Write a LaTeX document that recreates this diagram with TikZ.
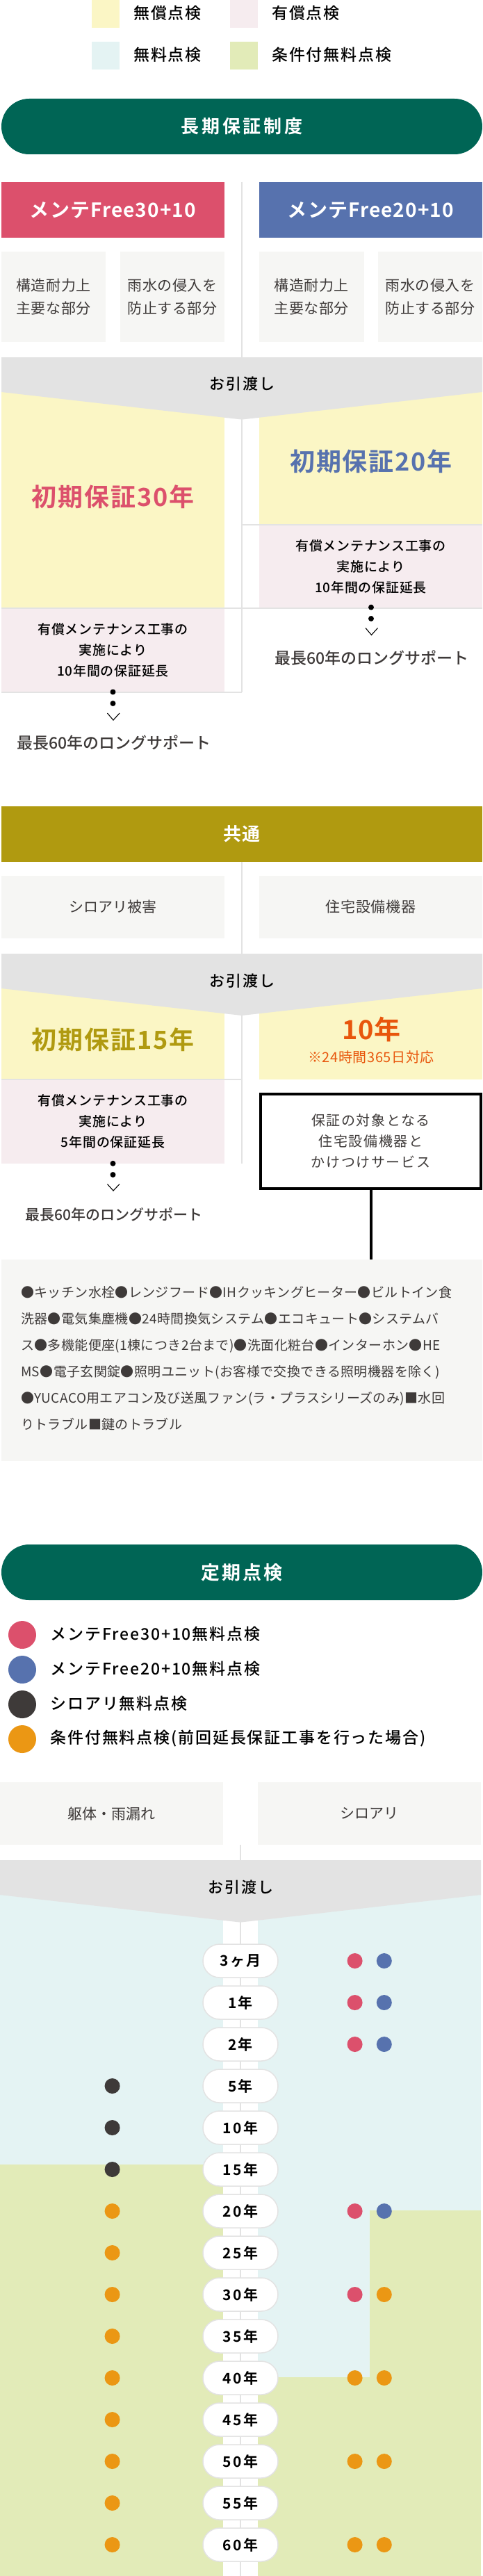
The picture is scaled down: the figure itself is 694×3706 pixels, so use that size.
\documentclass[tikz,border=0pt]{standalone}
\usepackage{fontspec}
\setmainfont[UprightFont=* Medium,BoldFont=* Bold]{Noto Sans CJK JP}
\newfontfamily\jpreg{Noto Sans CJK JP}
\definecolor{cteal}{HTML}{006555}
\definecolor{cred}{HTML}{DC506C}
\definecolor{cblue}{HTML}{5772AE}
\definecolor{colive}{HTML}{B09A10}
\definecolor{cyel}{HTML}{FBF6C5}
\definecolor{cpink}{HTML}{F6ECEF}
\definecolor{clblue}{HTML}{E4F3F3}
\definecolor{cgreen}{HTML}{E2EBB8}
\definecolor{cgray}{HTML}{F6F6F4}
\definecolor{crule}{HTML}{E3E3E3}
\definecolor{cink}{HTML}{3E3A39}
\definecolor{corange}{HTML}{EB9714}
\definecolor{cflame}{HTML}{E8560C}
\newcommand\fs[3]{\fontsize{#1}{#2}\selectfont\addfontfeature{LetterSpace=#3}}
\newcommand\bx[7]{\node[blockbox,#1,minimum width={(#4-#2)*1pt},minimum height={(#5-#3)*1pt},anchor=north west] (#6) at (#2,#3) {#7};}
\tikzset{
  blockbox/.style={inner sep=0pt,outer sep=0pt,align=center,text=cink},
  title/.style={fill=cteal,text=white,rounded corners=40pt,font={\bfseries\fs{26}{30}{15}}},
  headbox/.style={text=white,font={\bfseries\fs{28}{32}{4}}},
  partbox/.style={fill=cgray,font={\jpreg\fs{21}{33}{3}}},
  paybox/.style={fill=cpink,text=black,font={\fs{19}{30}{4}}},
  legendtext/.style={inner sep=0pt,anchor=west,text=black,font={\fs{23}{28}{8}}},
  rulegray/.style={draw=crule,line width=2pt},
  handover/.style={inner sep=0pt,text=black,font={\fs{22}{26}{10}}},
  bigyear/.style={inner sep=0pt,font={\bfseries\fs{36}{42}{5}}},
  longtext/.style={inner sep=0pt,text=cink,font={\fs{23}{28}{0}}},
  stepdot/.style={circle,fill=black,inner sep=0pt,minimum size=8pt},
  tick/.style={draw=black,line width=1.1pt},
  yearpill/.style={draw=crule,fill=white,line width=1.5pt,rounded corners=24pt,minimum width=108pt,minimum height=48pt,inner sep=0pt,text=black,font={\bfseries\fs{21}{24}{12}}},
  pdot/.style={circle,inner sep=0pt,minimum size=22pt},
  keydot/.style={circle,inner sep=0pt,minimum size=40pt}
}
\begin{document}
\begin{tikzpicture}[x=1pt,y=-1pt]
\useasboundingbox (0,0) rectangle (694,3706);
\fill[white] (0,0) rectangle (694,3706);
% legend
\bx{fill=cyel}{132}{0}{172}{40}{k1}{}
\bx{fill=cpink}{331}{0}{371}{40}{k2}{}
\bx{fill=clblue}{132}{60}{172}{100}{k3}{}
\bx{fill=cgreen}{331}{60}{371}{100}{k4}{}
\node[legendtext] (k1t) at (192,19) {無償点検};
\node[legendtext] (k2t) at (391,19) {有償点検};
\node[legendtext] (k3t) at (192,79) {無料点検};
\node[legendtext] (k4t) at (391,79) {条件付無料点検};
% section 1
\bx{title}{2}{142}{694}{222}{t1}{長期保証制度}
\coordinate (a1) at (348,262);
\coordinate (a2) at (348,996);
\draw[rulegray] (a1) -- (a2);
\bx{headbox,fill=cred}{2}{262}{323}{342}{h1}{メンテFree30+10}
\bx{headbox,fill=cblue}{373}{262}{694}{342}{h2}{メンテFree20+10}
\bx{partbox}{2}{362}{152}{492}{b1}{構造耐力上\\主要な部分}
\bx{partbox}{173}{362}{323}{492}{b2}{雨水の侵入を\\防止する部分}
\bx{partbox}{373}{362}{523.5}{492}{b3}{構造耐力上\\主要な部分}
\bx{partbox}{544}{362}{694}{492}{b4}{雨水の侵入を\\防止する部分}
\bx{fill=cyel}{2}{564}{323}{874}{y1}{}
\bx{fill=cyel}{373}{564}{694}{754}{y2}{}
\fill[crule] (2,514) -- (694,514) -- (694,564) -- (348,603.6) -- (2,564) -- cycle;
\node[handover] (o1) at (348.5,552.6) {お引渡し};
\node[bigyear,text=cred] (w1) at (162.5,714.7) {初期保証30年};
\node[bigyear,text=cblue] (w2) at (534,664) {初期保証20年};
\bx{paybox}{373}{755}{694}{875}{p2}{有償メンテナンス工事の\\実施により\\10年間の保証延長}
\bx{paybox}{2}{875}{323}{996}{p1}{有償メンテナンス工事の\\実施により\\10年間の保証延長}
\coordinate (r1a) at (348,754.6);
\coordinate (r1b) at (694,754.6);
\coordinate (r2a) at (2,875);
\coordinate (r2b) at (694,875);
\coordinate (r3a) at (2,996);
\draw[rulegray] (r1a) -- (r1b);
\draw[rulegray] (r2a) -- (r2b);
\draw[rulegray] (r3a) -- (a2);
\node[stepdot] (d1) at (162.5,995.5) {};
\node[stepdot] (d2) at (162.5,1012) {};
\coordinate (v1a) at (154.5,1026); \coordinate (v1b) at (163,1036); \coordinate (v1c) at (172,1026);
\draw[tick] (v1a) -- (v1b) -- (v1c);
\node[stepdot] (d3) at (534,873.7) {};
\node[stepdot] (d4) at (534,890) {};
\coordinate (v2a) at (526,903.5); \coordinate (v2b) at (534.5,913.5); \coordinate (v2c) at (543.5,903.5);
\draw[tick] (v2a) -- (v2b) -- (v2c);
\node[longtext] (l1) at (164,1068.6) {最長60年のロングサポート};
\node[longtext] (l2) at (535,947) {最長60年のロングサポート};
% section 2
\coordinate (c1) at (348,1240);
\coordinate (c2) at (348,1674);
\draw[rulegray] (c1) -- (c2);
\bx{fill=colive,text=white,font={\bfseries\fs{26}{32}{6}}}{2}{1160}{694}{1240}{t2}{共通}
\bx{partbox,font={\jpreg\fs{21}{26}{0}}}{2}{1260}{323}{1350}{b5}{シロアリ被害}
\bx{partbox,font={\jpreg\fs{21}{26}{3}}}{373}{1260}{694}{1350}{b6}{住宅設備機器}
\bx{fill=cyel}{2}{1422}{323}{1552.5}{y3}{}
\bx{fill=cyel}{373}{1422}{694}{1552.5}{y4}{}
\fill[crule] (2,1372) -- (694,1372) -- (694,1422) -- (348,1461) -- (2,1422) -- cycle;
\node[handover] (o2) at (348.5,1411) {お引渡し};
\node[bigyear,text=colive] (w3) at (162.5,1496) {初期保証15年};
\node[bigyear,text=cflame,font={\bfseries\fs{38}{42}{2}}] (w4) at (534.5,1480.5) {10年};
\node[inner sep=0pt,text=cflame,font={\jpreg\fs{20}{24}{3}}] (w5) at (534,1520.7) {※24時間365日対応};
\bx{paybox}{2}{1553}{323}{1673.8}{p3}{有償メンテナンス工事の\\実施により\\5年間の保証延長}
\coordinate (r4a) at (2,1553);
\coordinate (r4b) at (348,1553);
\draw[rulegray] (r4a) -- (r4b);
\node[stepdot] (d5) at (162.5,1673.8) {};
\node[stepdot] (d6) at (162.5,1690) {};
\coordinate (v3a) at (154.5,1703.5); \coordinate (v3b) at (163,1713); \coordinate (v3c) at (172,1703.5);
\draw[tick] (v3a) -- (v3b) -- (v3c);
\node[longtext,font={\fs{21}{26}{0}}] (l3) at (164,1747.5) {最長60年のロングサポート};
\bx{draw=black,line width=4pt,fill=white,font={\jpreg\fs{20}{30}{8}}}{375}{1574}{692}{1710}{s1}{保証の対象となる\\住宅設備機器と\\かけつけサービス}
\bx{fill=cgray}{2}{1812}{694}{2102}{s2}{}
\draw[black,line width=4pt] (s1.south) -- (s1.south |- s2.north);
\node[inner sep=0pt,anchor=north west,align=left,text=cink,font={\jpreg\fs{19}{38}{2}}] (s3) at (30,1850) {●キッチン水栓●レンジフード●IHクッキングヒーター●ビルトイン食\\洗器●電気集塵機●24時間換気システム●エコキュート●システムバ\\ス●多機能便座(1棟につき2台まで)●洗面化粧台●インターホン●HE\\MS●電子玄関錠●照明ユニット(お客様で交換できる照明機器を除く)\\●YUCACO用エアコン及び送風ファン(ラ・プラスシリーズのみ)■水回\\りトラブル■鍵のトラブル};
% section 3
\bx{title,font={\bfseries\fs{27}{30}{12}}}{2}{2222}{694}{2302}{t3}{定期点検}
\node[keydot,fill=cred] (m1) at (32,2352) {};
\node[keydot,fill=cblue] (m2) at (32,2402) {};
\node[keydot,fill=cink] (m3) at (32,2452) {};
\node[keydot,fill=corange] (m4) at (32,2502) {};
\node[legendtext] (m1t) at (72.4,2351) {メンテFree30+10無料点検};
\node[legendtext] (m2t) at (72.4,2401) {メンテFree20+10無料点検};
\node[legendtext] (m3t) at (72.4,2451) {シロアリ無料点検};
\node[legendtext] (m4t) at (72.4,2501) {条件付無料点検(前回延長保証工事を行った場合)};
\coordinate (e1) at (346,2654);
\coordinate (e2) at (346,3706);
\bx{fill=clblue}{0}{2726}{321}{3114}{g1}{}
\bx{fill=cgreen}{0}{3114}{321}{3706}{g2}{}
\bx{fill=clblue}{371}{2726}{692}{3180}{g3}{}
\bx{fill=clblue}{371}{3180}{531.5}{3420}{g4}{}
\bx{fill=cgreen}{531.5}{3180}{692}{3420}{g5}{}
\bx{fill=cgreen}{371}{3420}{692}{3706}{g6}{}
\draw[rulegray] (e1) -- (e2);
\bx{partbox,font={\jpreg\fs{21}{26}{0}}}{0}{2564}{321}{2654}{b7}{躯体・雨漏れ}
\bx{partbox,font={\jpreg\fs{21}{26}{0}}}{371}{2564}{692}{2654}{b8}{シロアリ}
\fill[crule] (0,2676) -- (692,2676) -- (692,2726) -- (346,2765.6) -- (0,2726) -- cycle;
\node[handover] (o3) at (346.5,2715) {お引渡し};
\foreach \r/\t in {1/3ヶ月,2/1年,3/2年,4/5年,5/10年,6/15年,7/20年,8/25年,9/30年,10/35年,11/40年,12/45年,13/50年,14/55年,15/60年}{
  \node[yearpill] (p\r y) at (346,{2821+60*(\r-1)}) {\t};
}
\foreach \r/\c in {4/cink,5/cink,6/cink,7/corange,8/corange,9/corange,10/corange,11/corange,12/corange,13/corange,14/corange,15/corange}{
  \node[pdot,fill=\c] (L\r) at (161.6,0 |- p\r y) {};
}
\foreach \r/\c in {1/cred,2/cred,3/cred,7/cred,9/cred,11/corange,13/corange,15/corange}{
  \node[pdot,fill=\c] (M\r) at (510.6,0 |- p\r y) {};
}
\foreach \r/\c in {1/cblue,2/cblue,3/cblue,7/cblue,9/corange,11/corange,13/corange,15/corange}{
  \node[pdot,fill=\c] (R\r) at (552.8,0 |- p\r y) {};
}
\end{tikzpicture}
\end{document}
